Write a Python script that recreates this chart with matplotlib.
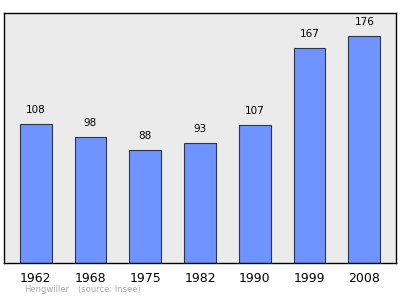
import matplotlib
matplotlib.use("Agg")
import matplotlib.pyplot as plt

# Population of Hengwiller by census year
years = ['1962', '1968', '1975', '1982', '1990', '1999', '2008']
population = [108, 98, 88, 93, 107, 167, 176]

fig = plt.figure(figsize=(4, 2.99), dpi=100)
ax = fig.add_axes([0.011, 0.1194, 0.978, 0.8356])
ax.set_facecolor('#ebebeb')

x = range(len(years))
bars = ax.bar(x, population, width=0.58, color='#7094ff',
              edgecolor='#2a3550', linewidth=0.8)

for b, v in zip(bars, population):
    ax.annotate(str(v), (b.get_x() + b.get_width() / 2, v),
                xytext=(0, 6.5), textcoords='offset points',
                ha='center', va='bottom', fontsize=7.5)

ax.set_xlim(-0.57, 6.57)
ax.set_ylim(0, max(population) * 1.1)
ax.set_xticks(list(x))
ax.set_xticklabels(years, fontsize=9)
ax.tick_params(axis='x', length=0, pad=6)
ax.set_yticks([])
for s in ax.spines.values():
    s.set_linewidth(1)
    s.set_color('black')

fig.text(0.06, 0.022, 'Hengwiller', fontsize=6, color='#aaaaaa')
fig.text(0.195, 0.022, '(source: Insee)', fontsize=6, color='#aaaaaa')

fig.savefig('out.png', dpi=100)
